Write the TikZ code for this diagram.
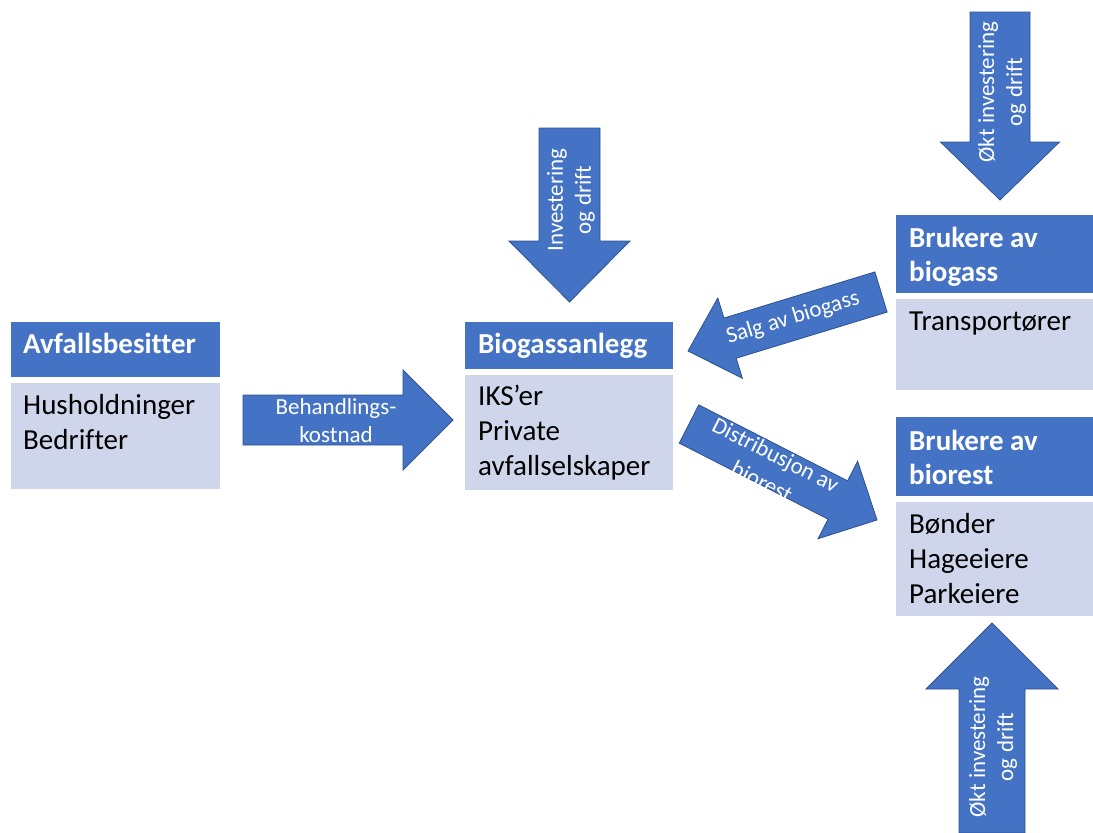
\documentclass[tikz,border=0pt]{standalone}
\usepackage{fontspec}
\setmainfont{Carlito}[Ligatures=CommonOff]
\usetikzlibrary{calc}

\definecolor{hdrblue}{HTML}{4472C4}
\definecolor{bodyblue}{HTML}{CFD5EA}
\definecolor{edgeblue}{HTML}{2F528F}

% block arrow: #1 name, #2 tail centre, #3 tip, #4 shaft half width,
% #5 head half width, #6 head length
\newcommand{\blockarrow}[6]{%
  \coordinate (#1-t) at #2;
  \coordinate (#1-p) at #3;
  \coordinate (#1-h) at ($(#1-p)!#6!(#1-t)$);
  \draw[arrowbody]
    ($(#1-t)!#4!90:(#1-p)$) -- ($(#1-h)!#4!90:(#1-p)$) --
    ($(#1-h)!#5!90:(#1-p)$) -- (#1-p) --
    ($(#1-h)!#5!-90:(#1-p)$) -- ($(#1-h)!#4!-90:(#1-p)$) --
    ($(#1-t)!#4!-90:(#1-p)$) -- cycle;
}

\tikzset{
  hdr/.style={fill=hdrblue, inner sep=0pt, outer sep=0pt, anchor=north west},
  body/.style={fill=bodyblue, inner sep=0pt, outer sep=0pt, anchor=north west},
  hdrtxt/.style={text=white, inner sep=0pt, anchor=base west,
    font=\fontsize{29}{34}\selectfont\bfseries},
  bodytxt/.style={text=black, inner sep=0pt, anchor=base west,
    font=\fontsize{29}{35}\selectfont},
  arrowbody/.style={fill=hdrblue, draw=edgeblue, line width=0.8pt, line join=miter},
  arrowtxt/.style={text=white, inner sep=0pt, align=center,
    font=\fontsize{23}{28}\selectfont},
}

\newcommand{\lines}[1]{\begin{tabular}[t]{@{}l@{}}#1\end{tabular}}

\begin{document}
\begin{tikzpicture}[x=1pt, y=-1pt]
\useasboundingbox (0,0) rectangle (1093,833);

% Avfallsbesitter
\node[hdr, minimum width=209pt, minimum height=55pt] (avf-h) at (11,322) {};
\node[body, minimum width=209pt, minimum height=106pt] (avf-b) at (11,383) {};
\node[hdrtxt] (avf-ht) at (23,353) {Avfallsbesitter};
\node[bodytxt] (avf-bt) at (23,414) {\lines{Husholdninger\\Bedrifter}};

% Biogassanlegg
\node[hdr, minimum width=208pt, minimum height=47pt] (bio-h) at (465,322) {};
\node[body, minimum width=208pt, minimum height=115pt] (bio-b) at (465,375) {};
\node[hdrtxt] (bio-ht) at (478,353) {Biogassanlegg};
\node[bodytxt] (bio-bt) at (478,405) {\lines{IKS’er\\Private\\avfallselskaper}};

% Brukere av biogass
\node[hdr, minimum width=197pt, minimum height=78pt] (bg-h) at (896,215) {};
\node[body, minimum width=197pt, minimum height=91pt] (bg-b) at (896,299) {};
\node[hdrtxt] (bg-ht) at (909,247) {\lines{Brukere av\\biogass}};
\node[bodytxt] (bg-bt) at (909,330) {Transportører};

% Brukere av biorest
\node[hdr, minimum width=197pt, minimum height=79pt] (br-h) at (896,417) {};
\node[body, minimum width=197pt, minimum height=114pt] (br-b) at (896,502) {};
\node[hdrtxt] (br-ht) at (909,450) {\lines{Brukere av\\biorest}};
\node[bodytxt] (br-bt) at (909,533) {\lines{Bønder\\Hageeiere\\Parkeiere}};

% flows between the parties
\blockarrow{beh}{(243,420)}{(453,420)}{25pt}{50pt}{50pt}
\node[arrowtxt] (beh-txt) at (336,421) {Behandlings-\\kostnad};

\blockarrow{inv}{(569.5,128)}{(569.5,302)}{30.5pt}{60.5pt}{61pt}
\node[arrowtxt, rotate=90] (inv-txt) at (571,200) {Investering\\og drift};

\blockarrow{okt1}{(1000,12)}{(1000,200)}{30pt}{59.5pt}{58pt}
\node[arrowtxt, rotate=90] (okt1-txt) at (1002,92) {Økt investering\\og drift};

\blockarrow{okt2}{(992,833)}{(992,623)}{33pt}{66pt}{66pt}
\node[arrowtxt, rotate=90] (okt2-txt) at (993,747) {Økt investering\\og drift};

\blockarrow{salg}{(881,292)}{(688,351)}{21pt}{42pt}{44pt}
\node[arrowtxt, rotate=17] (salg-txt) at (793,318) {Salg av biogass};

\blockarrow{dist}{(689,424)}{(877,520)}{21.5pt}{43.5pt}{44pt}
\node[arrowtxt, rotate=-27, font=\fontsize{23}{30}\selectfont] (dist-txt) at (769,468) {Distribusjon av\\biorest};
\end{tikzpicture}
\end{document}
